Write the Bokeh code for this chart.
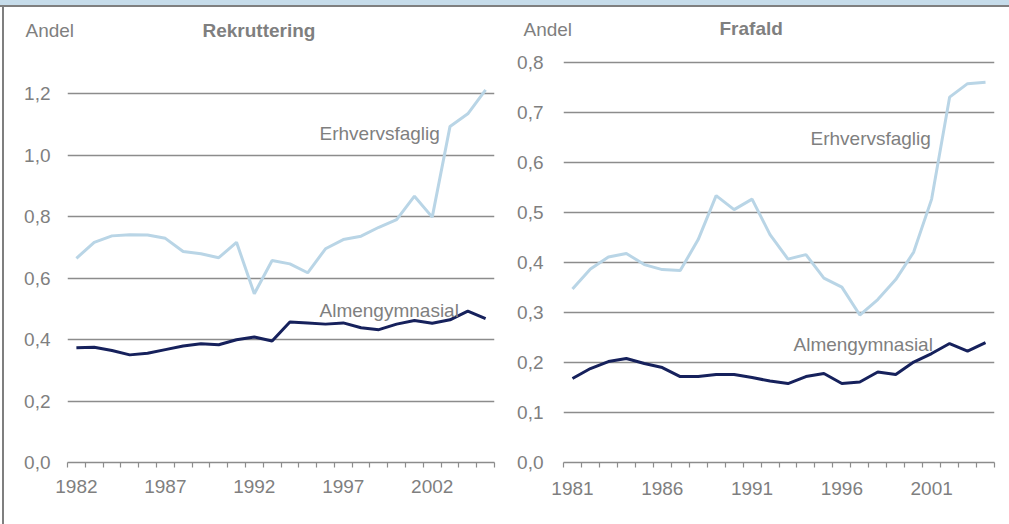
from bokeh.plotting import figure
from bokeh.layouts import row, column
from bokeh.models import Range1d, FixedTicker, CustomJSTickFormatter, Label
from bokeh.embed import file_html
from bokeh.resources import INLINE

# ---------------- data ----------------
rek_years = list(range(1982, 2006))
rek_erhverv = [0.664, 0.716, 0.737, 0.741, 0.740, 0.729, 0.686, 0.679, 0.666,
               0.716, 0.549, 0.657, 0.646, 0.617, 0.695, 0.725, 0.736, 0.765,
               0.790, 0.866, 0.798, 1.093, 1.134, 1.212]
rek_almen = [0.373, 0.375, 0.364, 0.350, 0.355, 0.367, 0.379, 0.386, 0.383,
             0.399, 0.408, 0.395, 0.457, 0.454, 0.450, 0.454, 0.438, 0.432,
             0.450, 0.462, 0.453, 0.464, 0.492, 0.468]

fra_years = list(range(1981, 2005))
fra_erhverv = [0.347, 0.387, 0.411, 0.418, 0.396, 0.386, 0.384, 0.446, 0.534,
               0.506, 0.527, 0.456, 0.407, 0.416, 0.369, 0.351, 0.295, 0.326,
               0.366, 0.421, 0.527, 0.731, 0.758, 0.761]
fra_almen = [0.168, 0.188, 0.202, 0.208, 0.198, 0.190, 0.172, 0.172, 0.176,
             0.176, 0.170, 0.163, 0.158, 0.172, 0.178, 0.158, 0.161, 0.181,
             0.176, 0.201, 0.218, 0.238, 0.223, 0.240]

rek_yticks = [0.0, 0.2, 0.4, 0.6, 0.8, 1.0, 1.2]
fra_yticks = [0.0, 0.1, 0.2, 0.3, 0.4, 0.5, 0.6, 0.7, 0.8]
rek_xlabels = [1982, 1987, 1992, 1997, 2002]
fra_xlabels = [1981, 1986, 1991, 1996, 2001]

titles = ["Rekruttering", "Frafald"]
ylabel = "Andel"
series_names = ["Erhvervsfaglig", "Almengymnasial"]

# ---------------- style ----------------
FONT = "Liberation Sans"
TXT = "#7f7f7f"
LIGHT = "#b9d5e6"
NAVY = "#16215c"
GRID = "#8c8c8c"
FS = "19px"
HEAD = 50          # height of the header strip
H = 524 - HEAD     # height of the chart figures

fmt = CustomJSTickFormatter(code="return tick.toFixed(1).replace('.', ',');")


def text_label(p, text, pos, bold=False):
    p.add_layout(Label(x=pos[0], y=pos[1], x_units="canvas",
                       y_units="canvas", text=text, text_font=FONT,
                       text_font_size=FS, text_color=TXT,
                       text_font_style="bold" if bold else "normal",
                       text_baseline="middle", text_align="left"))


def make(years, erh, alm, yticks, xlabels, yend, width, bl, br, bb,
         ystandoff, xstandoff, epos, gpos):
    x0 = years[0] - 0.5
    x1 = years[-1] + 0.5
    p = figure(width=width, height=H, output_backend="svg",
               toolbar_location=None, title=None,
               x_range=Range1d(x0, x1), y_range=Range1d(0, yend),
               min_border_left=bl, min_border_right=br,
               min_border_top=0, min_border_bottom=bb)
    p.outline_line_color = None
    p.background_fill_color = None
    p.border_fill_color = None

    ya = p.yaxis[0]
    ya.ticker = FixedTicker(ticks=yticks)
    ya.formatter = fmt
    ya.axis_line_color = None
    ya.major_tick_line_color = None
    ya.minor_tick_line_color = None
    ya.major_label_standoff = ystandoff
    ya.major_label_text_font = FONT
    ya.major_label_text_font_size = FS
    ya.major_label_text_color = TXT

    xa = p.xaxis[0]
    xa.ticker = FixedTicker(ticks=xlabels,
                            minor_ticks=[x0 + i for i in range(len(years) + 1)])
    xa.axis_line_color = GRID
    xa.axis_line_width = 1.5
    xa.major_tick_in = 0
    xa.major_tick_out = 0
    xa.minor_tick_in = 0
    xa.minor_tick_out = 5
    xa.minor_tick_line_color = GRID
    xa.minor_tick_line_width = 1.2
    xa.major_label_standoff = xstandoff
    xa.major_label_text_font = FONT
    xa.major_label_text_font_size = FS
    xa.major_label_text_color = TXT

    p.xgrid.grid_line_color = None
    p.ygrid.ticker = FixedTicker(ticks=yticks[1:])
    p.ygrid.grid_line_color = GRID
    p.ygrid.grid_line_width = 1.5

    p.line(years, erh, line_color=LIGHT, line_width=3)
    p.line(years, alm, line_color=NAVY, line_width=3)

    text_label(p, series_names[0], epos)
    text_label(p, series_names[1], gpos)
    return p


# header strip with the "Andel" captions and the chart titles
head = figure(width=1009, height=HEAD, output_backend="svg",
              toolbar_location=None, title=None,
              x_axis_type=None, y_axis_type=None,
              x_range=Range1d(0, 1009), y_range=Range1d(0, HEAD),
              min_border=0)
head.outline_line_color = None
head.background_fill_color = None
head.border_fill_color = None
head.xgrid.grid_line_color = None
head.ygrid.grid_line_color = None
text_label(head, ylabel, (25, 30))
text_label(head, titles[0], (202, 30), bold=True)
text_label(head, ylabel, (523, 29))
text_label(head, titles[1], (719, 28), bold=True)

# left chart: frame x 67..494, y 50..462 (307.5 px per unit)
p1 = make(rek_years, rek_erhverv, rek_almen, rek_yticks, rek_xlabels,
          412 / 307.5, 505, 67, 11, 62, 11, 12,
          (319, 133 - HEAD), (319, 310 - HEAD))

# right chart: frame x 563..994, y 50..463 (501 px per unit)
p2 = make(fra_years, fra_erhverv, fra_almen, fra_yticks, fra_xlabels,
          413 / 501, 504, 58, 15, 61, 14, 14,
          (305, 138 - HEAD), (288, 344 - HEAD))

bg = ("linear-gradient(to bottom, #c6dcea 0px, #c6dcea 5px, #7f7f7f 5px, "
      "#7f7f7f 7px, rgba(255,255,255,0) 7px), "
      "linear-gradient(to right, #ffffff 0px, #ffffff 2px, #7f7f7f 2px, "
      "#7f7f7f 4px, #ffffff 4px)")
layout = column(head, row(p1, p2), styles={"background": bg})

open("out.html", "w").write(file_html(layout, INLINE))
